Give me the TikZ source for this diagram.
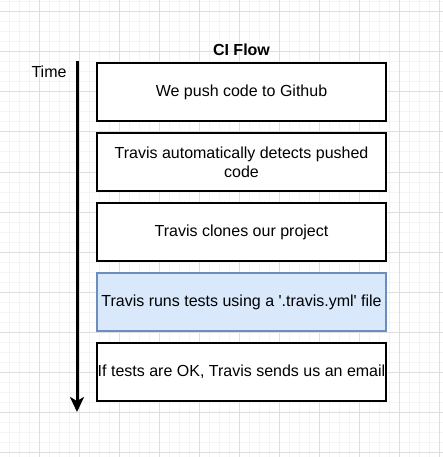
\documentclass[tikz,border=0pt]{standalone}
\usepackage{fontspec}
\setmainfont{Liberation Sans}
\usepackage{tikz}
\usetikzlibrary{arrows.meta}

\definecolor{gridminor}{HTML}{F4F4F4}
\definecolor{gridmajor}{HTML}{DEDEDE}
\definecolor{testfill}{HTML}{DAE8FC}
\definecolor{testdraw}{HTML}{6C8EBF}

\begin{document}
\begin{tikzpicture}[x=1pt, y=-1pt,
	every node/.style={font=\fontsize{16}{19}\selectfont, inner xsep=0pt},
	stepbox/.style={rectangle, draw=black, line width=2pt, fill=white, minimum width=289pt, minimum height=58pt, align=center},
	timeline/.style={draw=black, line width=3pt, -{Stealth[length=15pt, width=14pt, inset=4pt]}}]
			\useasboundingbox (0,0) rectangle (443,457);
			\fill[white] (0,0) rectangle (443,457);
			
			% background grid
			\foreach \gx in {-1,9,...,443} \draw[gridminor, line width=1pt] (\gx,0) -- (\gx,457);
			\foreach \gy in {2,12,...,457} \draw[gridminor, line width=1pt] (0,\gy) -- (443,\gy);
			\foreach \gx in {39,79,...,443} \draw[gridmajor, line width=1pt] (\gx,0) -- (\gx,457);
			\foreach \gy in {12,52,...,457} \draw[gridmajor, line width=1pt] (0,\gy) -- (443,\gy);
			
			\node[font=\fontsize{16}{19}\selectfont\bfseries] (title) at (241.5,50){CI Flow};
			\node (time) at (49,72){Time};
			
			\node[stepbox] (push) at (241.5,92){We push code to Github};
			\node[stepbox] (detect) at (241.5,162){Travis automatically detects pushed\\code};
			\node[stepbox] (clone) at (241.5,232){Travis clones our project};
			\node[stepbox, fill=testfill, draw=testdraw] (tests) at (241.5,302){Travis runs tests using a \textquotesingle.travis.yml\textquotesingle{} file};
			\node[stepbox] (email) at (241.5,372){If tests are OK, Travis sends us an email};
			
			\coordinate (timestart) at (77,61);
			\coordinate (timeend) at (77,412);
			\path[timeline] (timestart) -- (timeend);
			\end{tikzpicture}
\end{document}
